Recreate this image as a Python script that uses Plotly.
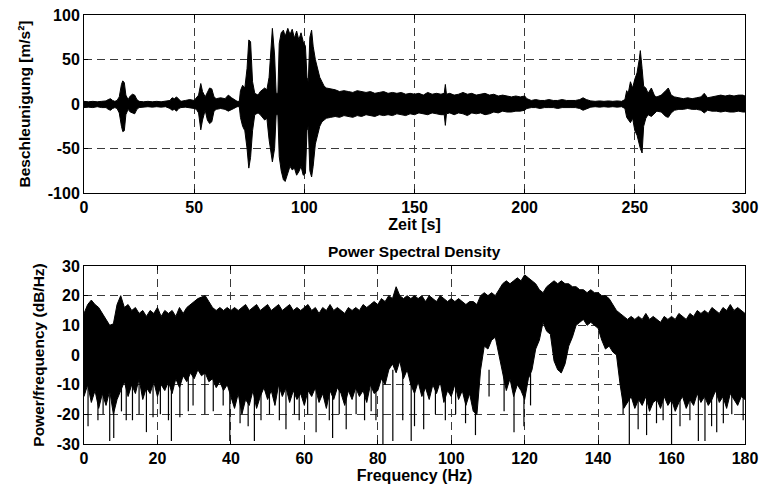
import plotly.graph_objects as go

# ---------------- top: acceleration envelope ----------------
zeit = [0, 2, 4, 6, 8, 10, 11, 12, 13, 14, 15, 16, 17, 17.6, 18.3, 19, 20, 21, 22, 23, 24, 25, 27, 29, 31, 33, 35, 37,
        39, 40, 41, 42, 43, 44, 46, 48, 50, 51, 52, 53, 53.8, 55, 56, 57, 58, 59, 60, 62, 64, 65.5, 67, 68, 69.5, 70.5,
        71, 72, 73, 74, 74.8, 75.6, 76.5, 77.5, 79, 80, 82, 83, 84, 85.5, 86.5, 87.2, 88, 88.6, 89.5, 90.5, 91.3, 92.5,
        93.5, 94.5, 95.5, 96.5, 97.5, 98.5, 99.5, 100.5, 101.2, 101.8, 102.5, 103.3, 104, 105, 106, 107, 108, 109, 110,
        112, 114, 116, 118, 120, 122, 124, 126, 128, 130, 132, 134, 136, 138, 140, 142, 144, 146, 148, 150, 152, 154,
        156, 158, 160, 162, 163.5, 164, 164.5, 166, 168, 170, 172, 174, 176, 178, 180, 182, 184, 186, 188, 190, 192,
        194, 196, 198, 200, 201, 203, 205, 207, 209, 211, 213, 215, 217, 219, 221, 223, 225, 226.5, 228, 230, 232, 234,
        236, 238, 240, 242, 244, 245.5, 246.3, 247, 248, 249, 250, 251, 252, 252.5, 253.3, 254, 255, 256, 257.5, 259,
        260, 262, 264, 265.2, 266.5, 268, 270, 272, 274, 276, 278, 280, 281.5, 283, 285, 287, 289, 291, 293, 295, 297,
        299, 300]
acc_upper = [3, 2.5, 3, 2.5, 3, 3.5, 5, 6, 4, 3, 4, 8, 22, 26, 24, 10, 5, 9, 11, 10, 5, 3, 2.5, 3, 2.5, 3, 2.5, 3,
             4, 7, 6, 8, 5, 3, 4, 5, 4, 7, 10, 23, 14, 8, 14, 18, 17, 8, 6, 7, 6, 10, 7, 5, 3, 3,
             15, 21, 18, 40, 72, 70, 25, 12, 10, 14, 18, 16, 30, 85, 55, 12, 12, 68, 80, 83, 76, 85,
             78, 84, 74, 82, 72, 80, 70, 65, 30, 25, 75, 83, 65, 50, 40, 30, 25, 20, 18,
             17, 16, 14, 15, 14, 13, 15, 14, 13, 14, 12, 13, 14, 12, 13, 12, 13, 11, 12, 11, 12, 10,
             13, 11, 12, 11, 12, 22, 11, 12, 10, 11, 13, 11, 12, 10, 11, 12, 10, 11, 9, 10, 9,
             8, 9, 8, 9, 6, 4, 5, 4, 4, 5, 4, 4, 5, 4, 4, 4, 5, 7, 5, 3.5, 3, 3.5,
             3, 3.5, 3, 3.5, 3, 5, 15, 12, 25, 18, 28, 35, 50, 60, 40, 20, 18, 12, 18, 9,
             8, 10, 15, 18, 10, 8, 7, 6, 7, 6, 7, 8, 12, 7, 8, 9, 10, 9, 10, 9, 10,
             10, 9]
acc_lower = [-4, -3.5, -4, -3, -4, -4, -6, -7, -5, -4, -5, -10, -25, -31, -30, -12, -6, -9, -10, -11, -6, -4, -3.5, -3, -3.5, -3, -3.5, -3,
             -5, -7, -6, -8, -5, -4, -3.5, -4, -5, -6, -10, -29, -18, -7, -18, -22, -20, -8, -6, -5, -6, -8, -6, -5, -3, -3,
             -15, -25, -30, -50, -72, -60, -30, -12, -10, -12, -18, -16, -40, -65, -50, -12, -12, -59, -75, -85, -87, -78,
             -70, -74, -72, -80, -76, -70, -80, -78, -30, -25, -75, -82, -70, -45, -35, -25, -20, -18, -16,
             -15, -14, -15, -13, -14, -15, -13, -14, -12, -13, -14, -12, -13, -12, -13, -11, -12, -13, -11, -12, -10, -11,
             -12, -10, -11, -12, -12, -24, -11, -10, -12, -10, -11, -13, -10, -11, -10, -12, -11, -9, -10, -8, -9,
             -9, -8, -8, -7, -5, -4, -4, -5, -4, -4, -4, -5, -4, -4, -4, -4, -5, -7, -5, -3.5, -3, -3.5,
             -3, -3.5, -3, -3.5, -3, -5, -15, -18, -21, -16, -30, -35, -45, -50, -55, -25, -16, -12, -14, -10,
             -8, -9, -14, -15, -10, -7, -6, -6, -5, -6, -6, -7, -10, -7, -8, -8, -9, -8, -9, -9, -8,
             -9, -9]

# ---------------- bottom: PSD envelope (1 Hz steps) ----------------
freq = list(range(0, 181))
psd_upper = [14, 17, 18.5, 17, 16, 14, 12, 10, 10.5, 17,
             20, 16, 17, 15, 16, 14, 15, 13, 15, 14,
             16, 13, 15, 14, 15, 13, 16, 14, 16, 17,
             18, 19, 19.5, 20, 18, 16, 15, 16, 15, 16,
             15, 16, 15, 16, 17, 15, 16, 17, 15, 16,
             17, 15, 16, 17, 15, 16, 17, 15, 16, 15,
             16, 17, 15, 16, 14, 16, 15, 17, 15, 16,
             15, 14, 16, 15, 16, 15, 17, 16, 17, 18,
             17, 19, 18, 20, 19, 23, 20, 19, 20, 19,
             20, 19, 20, 18, 20, 19, 18, 20, 19, 18,
             19, 18, 19, 18, 17, 18, 18, 17, 20, 21,
             20, 21, 20, 22, 24, 25, 24, 25, 26, 25,
             27, 26, 25, 24, 22, 21, 23, 24, 25, 24,
             25, 24, 24, 23, 23, 22, 22, 21, 22, 21,
             21, 20, 20, 19, 17, 15, 14, 13, 12, 13,
             12, 13, 12, 14, 12, 13, 12, 11, 13, 12,
             13, 12, 14, 13, 12, 14, 13, 15, 14, 15,
             14, 16, 15, 14, 16, 15, 17, 15, 16, 15,
             14]
psd_lower = [-14, -10, -16, -12, -18, -13, -17, -12, -20, -15,
             -12, -9, -14, -10, -13, -8, -15, -11, -13, -9,
             -14, -10, -12, -9, -13, -8, -11, -7, -9, -6,
             -8, -5, -7, -6, -9, -8, -11, -9, -12, -10,
             -14, -18, -13, -20, -15, -17, -12, -18, -14, -11,
             -15, -12, -17, -10, -14, -11, -16, -12, -15, -13,
             -17, -12, -14, -11, -16, -13, -18, -12, -15, -11,
             -13, -17, -12, -15, -11, -14, -12, -16, -10, -13,
             -12, -8, -10, -5, -3, -6, -2, -8, -5, -10,
             -13, -9, -14, -11, -15, -10, -13, -9, -16, -12,
             -14, -10, -15, -12, -17, -13, -19, -20, -5, 3,
             2, 5, 6, 1, -6, -12, -8, -14, -10, -12,
             -15, -8, -5, 2, 5, 11, 8, 7, -2, -5,
             -6, -3, 3, 6, 10, 11, 12, 10, 11, 10,
             9, 5, 2, 3, 1, 0, -10, -18, -16, -14,
             -18, -15, -17, -14, -19, -16, -15, -18, -14, -17,
             -15, -19, -16, -14, -18, -15, -17, -13, -16, -14,
             -17, -15, -12, -16, -14, -18, -13, -15, -17, -14,
             -15]
spike_freq = [1.1, 3.8, 5.2, 7.0, 8.1, 10.2, 11.5, 13.2, 15.0, 17.0, 18.8, 20.8, 23.0, 23.8, 26.1, 28.4,
              29.7, 32.9, 35.2, 37.9, 39.7, 42.5, 44.7, 46.4, 48.2, 50.5, 53.2, 55.0, 57.3, 58.6, 60.9,
              63.2, 66.8, 67.7, 69.5, 71.4, 74.1, 76.4, 78.2, 79.5, 81.4, 84.1, 86.8, 89.1, 90.0, 92.5,
              95.7, 98.4, 101.2, 103.9, 106.6, 110.3, 114.4, 117.1, 119.8, 121.6, 127.5, 129.8, 146.8,
              148.5, 150.9, 153.2, 155.9, 157.7, 160.0, 162.3, 165.0, 167.3, 169.1, 170.9, 172.3, 174.1,
              176.4, 179.5]
spike_depth = [-24, -22, -20, -29, -28, -19, -22, -22, -20, -26, -21, -20, -22, -29, -21, -19,
               -17, -20, -19, -17, -29, -23, -24, -29, -22, -20, -22, -25, -20, -22, -20,
               -26, -22, -28, -20, -25, -20, -22, -19, -22, -30, -29, -22, -29, -24, -25,
               -20, -22, -20, -23, -27, -14, -19, -26, -24, -17, -5, -6, -20,
               -30, -25, -27, -23, -22, -30, -24, -22, -29, -29, -24, -26, -23,
               -20, -22]

x_ticks_top = [0, 50, 100, 150, 200, 250, 300]
y_ticks_top = [-100, -50, 0, 50, 100]
x_ticks_bot = [0, 20, 40, 60, 80, 100, 120, 140, 160, 180]
y_ticks_bot = [-30, -20, -10, 0, 10, 20, 30]

# ---------------- figure ----------------
fig = go.Figure()

fig.add_trace(go.Scatter(
    x=zeit + zeit[::-1], y=acc_upper + acc_lower[::-1],
    fill="toself", fillcolor="black", mode="lines",
    line=dict(color="black", width=1), xaxis="x", yaxis="y", hoverinfo="skip"))

fig.add_trace(go.Scatter(
    x=freq + freq[::-1], y=psd_upper + psd_lower[::-1],
    fill="toself", fillcolor="black", mode="lines",
    line=dict(color="black", width=1), xaxis="x2", yaxis="y2", hoverinfo="skip"))

sx, sy = [], []
for f, d in zip(spike_freq, spike_depth):
    sx += [f, f, None]
    sy += [-5, d, None]
fig.add_trace(go.Scatter(x=sx, y=sy, mode="lines", line=dict(color="black", width=1.2),
                         xaxis="x2", yaxis="y2", hoverinfo="skip"))

FONT = "Liberation Sans, Arial, Helvetica, sans-serif"
tickfont = dict(family=FONT, size=16, color="black")
xtitlefont = dict(family=FONT, size=16, color="black")
ytitlefont = dict(family=FONT, size=15.5, color="black")


def b(v):
    return ["<b>%s</b>" % x for x in v]


common = dict(showline=True, linecolor="black", linewidth=1, mirror="allticks",
              ticks="inside", ticklen=4, tickcolor="black", automargin=False,
              showgrid=True, gridcolor="#3a3a3a", griddash="8px,5px", gridwidth=1,
              zeroline=False, tickfont=tickfont, tickmode="array", ticklabeloverflow="allow")

fig.update_layout(
    width=761, height=476,
    paper_bgcolor="white", plot_bgcolor="white",
    showlegend=False,
    margin=dict(l=76, r=24, t=7, b=40, autoexpand=False),
    xaxis=dict(domain=[0, 1], anchor="y", range=[0, 300], tickvals=x_ticks_top, ticktext=b(x_ticks_top),
               title=dict(text="<b>Zeit [s]</b>", font=xtitlefont, standoff=1), **common),
    yaxis=dict(domain=[0.585, 1], anchor="x", range=[-100, 100], tickvals=y_ticks_top, ticktext=b(y_ticks_top),
               title=dict(text="<b>Beschleunigung [m/s²]</b>", font=ytitlefont, standoff=13), **common),
    xaxis2=dict(domain=[0, 1], anchor="y2", range=[0, 180], tickvals=x_ticks_bot, ticktext=b(x_ticks_bot),
                title=dict(text="<b>Frequency (Hz)</b>", font=xtitlefont, standoff=1), **common),
    yaxis2=dict(domain=[0, 0.415], anchor="x2", range=[-30, 30], tickvals=y_ticks_bot, ticktext=b(y_ticks_bot),
                title=dict(text="<b>Power/frequency (dB/Hz)</b>", font=ytitlefont, standoff=8), **common),
    annotations=[dict(text="<b>Power Spectral Density</b>", x=0.5, xref="x2 domain", y=1, yref="y2 domain",
                      xanchor="center", yanchor="bottom", yshift=4, showarrow=False,
                      font=dict(family=FONT, size=15.5, color="black"))],
)

fig.write_html("out.html")
